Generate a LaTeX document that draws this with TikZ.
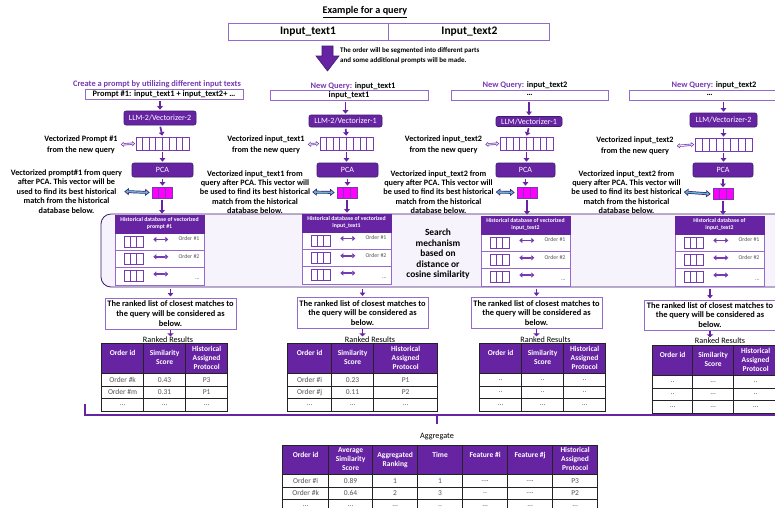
\documentclass[tikz,border=0pt]{standalone}
\usepackage{fontspec}
\setmainfont{Carlito}
\usetikzlibrary{arrows.meta,calc,matrix}

\definecolor{darkpurple}{RGB}{102,36,162}
\definecolor{midpurple}{RGB}{118,58,178}
\definecolor{edgepurple}{RGB}{148,106,206}
\definecolor{deeppurple}{RGB}{62,28,110}
\definecolor{lavender}{RGB}{246,243,252}
\definecolor{vecpink}{RGB}{255,0,255}
\definecolor{linkteal}{RGB}{92,186,214}
\definecolor{greytext}{RGB}{85,85,85}
\definecolor{gridline}{RGB}{35,35,35}

% three-line header cell for the tables
\newcommand{\hcell}[3]{\begin{tabular}{@{}c@{}}#1\tabularnewline#2\tabularnewline#3\end{tabular}}

\tikzset{
  heading/.style={font=\bfseries\fontsize{8.4}{9}\selectfont},
  inputbox/.style={draw=edgepurple, line width=0.9pt, fill=white,
    font=\bfseries\fontsize{8.4}{9}\selectfont},
  llmbox/.style={draw=deeppurple, line width=0.6pt, fill=darkpurple,
    rounded corners=2pt, text=white, font=\fontsize{8}{9}\selectfont},
  vecbox/.style={draw=midpurple, line width=0.7pt, fill=white},
  pcavec/.style={draw=midpurple, line width=0.7pt, fill=vecpink},
  vlabel/.style={font=\bfseries\fontsize{8.2}{10.6}\selectfont, align=center},
  plabel/.style={font=\bfseries\fontsize{8.2}{9.4}\selectfont, align=center},
  flow/.style={draw=darkpurple, line width=1.7pt,
    -{Triangle[width=5.5pt,length=3.5pt]}, shorten <=1.5pt, shorten >=1pt},
  stub/.style={draw=darkpurple, line width=1.2pt, -{Triangle[width=6pt,length=3pt]}},
  linkarrow/.style={draw=midpurple, line width=2.2pt,
    arrows={Triangle[width=5pt,length=3pt]-Triangle[width=5pt,length=3pt]},
    postaction={draw=lavender, line width=0.8pt, shorten <=1.2pt, shorten >=1.2pt,
      arrows={Triangle[width=2.4pt,length=1.6pt]-Triangle[width=2.4pt,length=1.6pt]}}},
  tealarrow/.style={draw=deeppurple, line width=2.8pt,
    arrows={Triangle[width=7pt,length=4.5pt]-Triangle[width=7pt,length=4.5pt]},
    postaction={draw=linkteal, line width=1.4pt, shorten <=1.3pt, shorten >=1.3pt,
      arrows={Triangle[width=4pt,length=2.6pt]-Triangle[width=4pt,length=2.6pt]}}},
  dbpanel/.style={draw=edgepurple, line width=0.8pt, fill=white,
    minimum width=89, minimum height=70},
  dbhead/.style={draw=darkpurple, fill=darkpurple, minimum width=89, minimum height=18,
    text=white, align=center, font=\bfseries\fontsize{5.8}{6.8}\selectfont},
  cellvec/.style={draw=midpurple, line width=0.7pt, fill=white,
    minimum width=19, minimum height=11},
  dbarrow/.style={draw=midpurple, line width=1.8pt,
    arrows={Triangle[width=5pt,length=3pt]-Triangle[width=5pt,length=3pt]}},
  ordertag/.style={text=greytext, font=\fontsize{5.8}{6}\selectfont},
  rankbox/.style={draw=edgepurple, line width=1pt, fill=white, minimum width=131,
    minimum height=31, align=center, font=\bfseries\fontsize{8.4}{9.6}\selectfont},
  results/.style={font=\fontsize{8.2}{9}\selectfont},
  datatable/.style={matrix of nodes, column sep=-0.8pt, row sep=-0.8pt,
    nodes={draw=gridline, line width=0.8pt, anchor=center,
      minimum height=12.5, text=greytext, font=\fontsize{7.5}{9}\selectfont},
    row 1/.style={nodes={fill=darkpurple, text=white, minimum height=30,
      font=\bfseries\fontsize{7.5}{9}\selectfont}}},
  bracket/.style={draw=darkpurple, line width=1.1pt}
}

\begin{document}
\begin{tikzpicture}[x=1pt,y=-1pt,every node/.style={inner sep=0pt}]
\clip (0,0) rectangle (775,507);
\fill[white] (0,0) rectangle (775,507);

% title and the order's input texts
\node[font=\bfseries\fontsize{10.2}{12}\selectfont] (title) at (365,12) {\underline{Example for a query}};
\node[inputbox, font=\bfseries\fontsize{11.5}{13}\selectfont, minimum width=160, minimum height=17] (in1) at (308,31.5) {Input\_text1};
\node[inputbox, font=\bfseries\fontsize{11.5}{13}\selectfont, minimum width=161, minimum height=17, anchor=west] (in2) at (in1.east) {Input\_text2};

% segmentation arrow
\filldraw[fill=darkpurple, draw=deeppurple, line width=0.6pt] (322,46) -- (333,46) -- (333,56) -- (339,56) -- (327.5,71) -- (316,56) -- (322,56) -- cycle;
\node[font=\bfseries\fontsize{7}{10}\selectfont, align=left, anchor=west] (segnote) at (340,56) {The order will be segmented into different parts\\and some additional prompts will be made.};

% queries
\node[heading, text=midpurple] (head1) at (157,84) {Create a prompt by utilizing different input texts};
\node[heading] (head2) at (353,86) {\textcolor{midpurple}{New Query:} input\_text1};
\node[heading] (head3) at (525,85) {\textcolor{midpurple}{New Query:} input\_text2};
\node[heading] (head4) at (714,85) {\textcolor{midpurple}{New Query:} input\_text2};
\node[inputbox, minimum width=158, minimum height=9.5] (box1) at (164,94.5) {Prompt \#1: input\_text1 + input\_text2+ …};
\node[inputbox, minimum width=158, minimum height=10] (box2) at (349,95) {input\_text1};
\node[inputbox, minimum width=157, minimum height=10] (box3) at (529.5,95) {…};
\node[inputbox, minimum width=161, minimum height=10] (box4) at (709.5,95) {…};

% vectorizers
\node[llmbox, minimum width=72, minimum height=14] (llm1) at (160,118) {LLM-2/Vectorizer-2};
\node[llmbox, minimum width=73, minimum height=12] (llm2) at (345.5,121) {LLM-2/Vectorizer-1};
\node[llmbox, minimum width=66, minimum height=10] (llm3) at (529,121.5) {LLM/Vectorizer-1};
\node[llmbox, minimum width=67, minimum height=14] (llm4) at (723.5,120) {LLM/Vectorizer-2};

% vectors of the queries
\node[vecbox, minimum width=53, minimum height=13] (vec1) at (162.5,143.5) {};
\node[vecbox, minimum width=53, minimum height=13] (vec2) at (346.5,143.5) {};
\node[vecbox, minimum width=53, minimum height=13] (vec3) at (526.5,143.5) {};
\node[vecbox, minimum width=57, minimum height=13] (vec4) at (723.5,144.5) {};
\node[vlabel] (lv1) at (81,144.5) {Vectorized Prompt \#1\\from the new query};
\node[vlabel] (lv2) at (266,144.5) {Vectorized input\_text1\\from the new query};
\node[vlabel] (lv3) at (443.5,144.5) {Vectorized input\_text2\\from the new query};
\node[vlabel] (lv4) at (635,146) {Vectorized input\_text2\\from the new query};

% PCA
\node[llmbox, minimum width=61, minimum height=14] (pca1) at (162.5,170) {PCA};
\node[llmbox, minimum width=61, minimum height=14] (pca2) at (347.5,170) {PCA};
\node[llmbox, minimum width=59, minimum height=14] (pca3) at (525.5,170) {PCA};
\node[llmbox, minimum width=60, minimum height=14] (pca4) at (723,170) {PCA};
\node[pcavec, minimum width=20, minimum height=11] (mag1) at (162,192.5) {};
\node[pcavec, minimum width=20, minimum height=11] (mag2) at (347,192.5) {};
\node[pcavec, minimum width=20, minimum height=11] (mag3) at (527,192.5) {};
\node[pcavec, minimum width=20, minimum height=11] (mag4) at (723,194) {};
\node[plabel] (lp1) at (66.5,191.5) {Vectorized prompt\#1 from query\\after PCA. This vector will be\\used to find its best historical\\match from the historical\\database below.};
\node[plabel] (lp2) at (255,192) {Vectorized input\_text1 from\\query after PCA. This vector will\\be used to find its best historical\\match from the historical\\database below.};
\node[plabel] (lp3) at (438.5,192) {Vectorized input\_text2 from\\query after PCA. This vector will\\be used to find its best historical\\match from the historical\\database below.};
\node[plabel] (lp4) at (626.5,192) {Vectorized input\_text2 from\\query after PCA. This vector will\\be used to find its best historical\\match from the historical\\database below.};

\foreach \c in {1,...,4} {
  \foreach \k in {1,...,7}
    \draw[midpurple, line width=0.6pt] ($(vec\c.north west)!\k/8!(vec\c.north east)$) -- ($(vec\c.south west)!\k/8!(vec\c.south east)$);
  \foreach \k in {1,2}
    \draw[midpurple, line width=0.6pt] ($(mag\c.north west)!\k/3!(mag\c.north east)$) -- ($(mag\c.south west)!\k/3!(mag\c.south east)$);
}

% search over the historical databases
\node[draw=deeppurple, line width=0.8pt, fill=lavender, rounded corners=10pt, minimum width=699, minimum height=73] (search) at (450.5,250.5) {};
\node[dbpanel] (db1) at (159.5,250) {};
\node[dbpanel] (db2) at (346.5,249) {};
\node[dbpanel] (db3) at (525.5,251) {};
\node[dbpanel] (db4) at (719.5,251) {};
\node[dbhead, anchor=north] (dbh1) at (db1.north) {Historical database of vectorized\\prompt \#1};
\node[dbhead, anchor=north] (dbh2) at (db2.north) {Historical database of vectorized\\input\_text1};
\node[dbhead, anchor=north] (dbh3) at (db3.north) {Historical database of vectorized\\input\_text2};
\node[dbhead, anchor=north] (dbh4) at (db4.north) {Historical database of\\input\_text2};
\node[font=\bfseries\fontsize{9.4}{10.5}\selectfont, align=center] (searchtxt) at (438,254) {Search\\mechanism\\based on\\distance or\\cosine similarity};

\foreach \p in {1,...,4} {
  \foreach \r/\tag/\dy in {1/Order \#1/4, 2/Order \#2/4, 3/…/11} {
    \coordinate (rowtop) at ($(db\p.north west)+(0,{18+17.3*(\r-1)})$);
    \ifnum\r>1 \draw[edgepurple, line width=0.8pt] (rowtop) -- ++(89,0); \fi
    \node[cellvec, anchor=north west] (cv\p\r) at ($(rowtop)+(9,3)$) {};
    \foreach \k in {1,2}
      \draw[midpurple, line width=0.7pt] ($(cv\p\r.north west)!\k/3!(cv\p\r.north east)$) -- ($(cv\p\r.south west)!\k/3!(cv\p\r.south east)$);
    \draw[dbarrow] ($(cv\p\r.east)+(10,-2)$) -- ($(cv\p\r.east)+(25,-2)$);
    \node[ordertag, anchor=north east] (tag\p\r) at ($(rowtop)+(85,\dy)$) {\tag};
  }
}

% ranked lists
\node[rankbox] (rank1) at (170.5,313.5) {The ranked list of closest matches to\\the query will be considered as\\below.};
\node[rankbox] (rank2) at (362.5,313) {The ranked list of closest matches to\\the query will be considered as\\below.};
\node[rankbox] (rank3) at (536.5,313) {The ranked list of closest matches to\\the query will be considered as\\below.};
\node[rankbox, minimum width=132, minimum height=30] (rank4) at (710,315) {The ranked list of closest matches to\\the query will be considered as\\below.};
\node[results] (rr1) at (168,339.5) {Ranked Results};
\node[results] (rr2) at (370,339.5) {Ranked Results};
\node[results] (rr3) at (545.5,339.5) {Ranked Results};
\node[results] (rr4) at (720,340.5) {Ranked Results};

\matrix (tab1) [datatable, anchor=north west, nodes={minimum width=42}] at (101,343) {
  \hcell{Order id}{}{} & \hcell{Similarity}{Score}{} & \hcell{Historical}{Assigned}{Protocol} \\
  Order \#k & 0.43 & P3 \\
  Order \#m & 0.31 & P1 \\
  … & … & … \\
};
\matrix (tab2) [datatable, anchor=north west, column 1/.style={nodes={minimum width=44}},
  column 2/.style={nodes={minimum width=42}}, column 3/.style={nodes={minimum width=64}}] at (287,343) {
  \hcell{Order id}{}{} & \hcell{Similarity}{Score}{} & \hcell{Historical}{Assigned}{Protocol} \\
  Order \#i & 0.23 & P1 \\
  Order \#j & 0.11 & P2 \\
  … & … & … \\
};
\matrix (tab3) [datatable, anchor=north west, nodes={minimum width=42}] at (479,343) {
  \hcell{Order id}{}{} & \hcell{Similarity}{Score}{} & \hcell{Historical}{Assigned}{Protocol} \\
  .. & .. & .. \\
  .. & .. & .. \\
  … & … & … \\
};
\matrix (tab4) [datatable, anchor=north west, column 1/.style={nodes={minimum width=40}},
  column 2/.style={nodes={minimum width=41}}, column 3/.style={nodes={minimum width=44}}] at (652,345) {
  \hcell{Order id}{}{} & \hcell{Similarity}{Score}{} & \hcell{Historical}{Assigned}{Protocol} \\
  .. & … & .. \\
  .. & … & .. \\
  … & … & … \\
};

% aggregation of the ranked lists
\coordinate (braceleft) at (85,404);
\coordinate (braceright) at (800,415);
\coordinate (bracemid) at (437,415);
\coordinate (bracetip) at (437,424);
\draw[bracket] (braceleft) |- (braceright);
\draw[bracket] (bracemid) -- (bracetip);
\node[results] (aggtitle) at (437,437) {Aggregate};
\matrix (agg) [datatable, anchor=north west, nodes={minimum width=45},
  column 1/.style={nodes={minimum width=46}}, column 2/.style={nodes={minimum width=44}},
  row 1/.style={nodes={fill=darkpurple, text=white, minimum height=29,
    font=\bfseries\fontsize{7.5}{9}\selectfont}}] at (282,445) {
  \hcell{Order id}{}{} & \hcell{Average}{Similarity}{Score} & \hcell{Aggregated}{Ranking}{} & \hcell{Time}{}{} & \hcell{Feature \#i}{}{} & \hcell{Feature \#j}{}{} & \hcell{Historical}{Assigned}{Protocol} \\
  Order \#i & 0.89 & 1 & 1 & …. & …. & P3 \\
  Order \#k & 0.64 & 2 & 3 & .. & …. & P2 \\
  … & … & … & .. & … & … & … \\
};

% connectors
\foreach \c in {1,...,4} {
  \draw[flow] (llm\c.north |- box\c.south) -- (llm\c.north);
  \draw[flow] (llm\c.south) -- (vec\c.north);
  \draw[flow] (vec\c.south) -- (vec\c.south |- pca\c.north);
  \draw[flow] (pca\c.south) -- (pca\c.south |- mag\c.north);
  \draw[flow] (mag\c.south) -- (mag\c.south |- db\c.north);
  \draw[flow] (search.south -| rank\c.north) -- (rank\c.north);
  \draw[stub] (rank\c.south) -- (rank\c.south |- rr\c.north);
  \draw[linkarrow] ($(lv\c.east)+(3,0)$) -- ($(vec\c.west)+(-0.5,0)$);
  \draw[tealarrow] ($(lp\c.east)+(2,0)$) -- ($(mag\c.west)+(-2,0)$);
}
\end{tikzpicture}
\end{document}
